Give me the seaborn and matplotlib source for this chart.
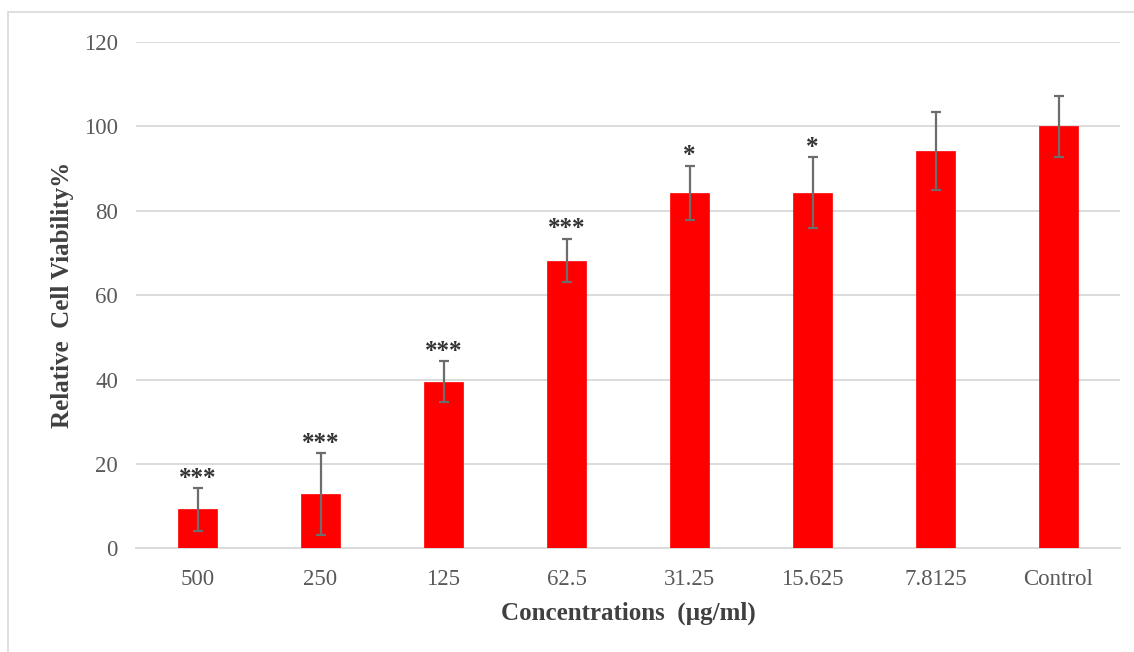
import matplotlib
matplotlib.use("Agg")
import matplotlib.pyplot as plt
import matplotlib.patches as mpatches
import seaborn as sns
import pandas as pd

# Cell viability after treatment at each concentration (mean and SD)
concentrations = ["500", "250", "125", "62.5", "31.25", "15.625", "7.8125", "Control"]
viability = [9.2, 12.9, 39.5, 68.2, 84.3, 84.3, 94.2, 100.0]
sd = [5.0, 9.7, 4.9, 5.2, 6.4, 8.5, 9.2, 7.3]
significance = ["***", "***", "***", "***", "*", "*", "", ""]

y_ticks = [0, 20, 40, 60, 80, 100, 120]

sns.set_theme(style="white")
plt.rcParams["font.family"] = ["Liberation Serif", "DejaVu Serif"]

df = pd.DataFrame({"conc": concentrations, "viability": viability})

fig = plt.figure(figsize=(11.34, 6.52), dpi=100)
fig.patch.set_facecolor("white")

# light frame around the chart area
frame = mpatches.Rectangle((8 / 1134, -0.05), 1.2, 1 - 12 / 652 + 0.05,
                           transform=fig.transFigure, fill=False,
                           edgecolor="#d9d9d9", linewidth=1.2, zorder=0)
fig.patches.append(frame)

ax = fig.add_axes([136 / 1134, 1 - 548.3 / 652, (1120 - 136) / 1134, (548.3 - 42) / 652])

sns.barplot(data=df, x="conc", y="viability", color="#ff0000", width=0.31,
            saturation=1, errorbar=None, ax=ax, zorder=3,
            edgecolor="#ff0000", linewidth=0.5)

xs = list(range(len(concentrations)))
ax.errorbar(xs, viability, yerr=sd, fmt="none", ecolor="#6d6d6d",
            elinewidth=1.6, capsize=3.4, capthick=1.6, zorder=4)

for x, v, e, s in zip(xs, viability, sd, significance):
    if s:
        ax.annotate(s, xy=(x, v + e), xytext=(0, 7), textcoords="offset points",
                    ha="center", va="center", fontsize=18, fontweight="bold",
                    color="#333333", zorder=5)

ax.set_xlim(-0.5, 7.5)
ax.set_ylim(0, 120)
ax.set_yticks(y_ticks)
ax.set_yticklabels([str(t) for t in y_ticks])

ax.grid(axis="y", color="#d9d9d9", linewidth=1.3, zorder=0)
ax.grid(axis="x", visible=False)
ax.set_axisbelow(True)
for side in ["top", "right", "left"]:
    ax.spines[side].set_visible(False)
ax.spines["bottom"].set_color("#d9d9d9")
ax.spines["bottom"].set_linewidth(1.3)

ax.tick_params(axis="both", length=0, labelsize=16.5, labelcolor="#595959")
ax.tick_params(axis="y", pad=13)
ax.tick_params(axis="x", pad=15)

ax.set_xlabel("Concentrations  (\u00b5g/ml)", fontsize=18, fontweight="bold",
              color="#404040", labelpad=8)
ax.set_ylabel("Relative  Cell Viability%", fontsize=18, fontweight="bold",
              color="#404040", labelpad=7)

fig.savefig("out.png", dpi=100, facecolor="white")
